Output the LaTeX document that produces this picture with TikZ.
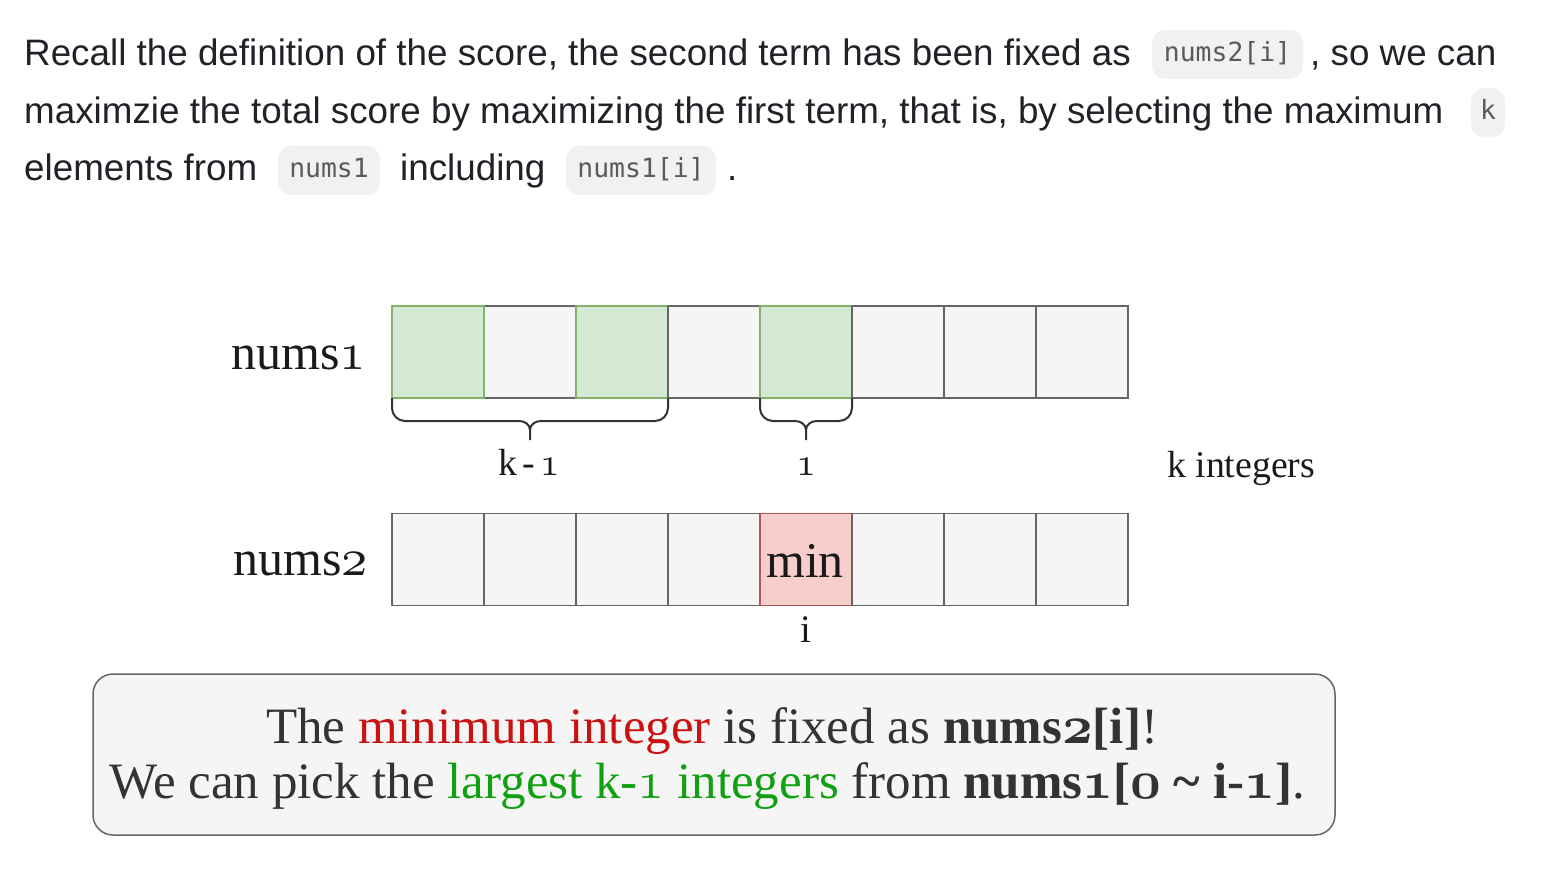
\documentclass[tikz,border=0pt]{standalone}
\usepackage{fontspec}
\newfontfamily\sansf{Liberation Sans}
\newfontfamily\monof{DejaVu Sans Mono}
\newfontfamily\serf{Liberation Serif}
\DeclareFontFamily{OML}{myosf}{}
\DeclareFontShape{OML}{myosf}{m}{it}{<->s*[1.05]cmmi10}{}
\DeclareFontShape{OML}{myosf}{b}{it}{<->s*[1.05]cmmib10}{}
\newcommand\osf[1]{{\usefont{OML}{myosf}{m}{it}#1}}
\newcommand\osfb[1]{{\usefont{OML}{myosf}{b}{it}#1}}
\usetikzlibrary{calc}
\definecolor{txt}{HTML}{1F2328}
\definecolor{codebg}{HTML}{F0F1F3}
\definecolor{codetxt}{HTML}{5A5A5A}
\definecolor{cellfill}{HTML}{F5F5F5}
\definecolor{celldraw}{HTML}{666666}
\definecolor{gfill}{HTML}{D5E8D4}
\definecolor{gdraw}{HTML}{82B366}
\definecolor{rfill}{HTML}{F8CECC}
\definecolor{rdraw}{HTML}{B85450}
\definecolor{lab}{HTML}{1A1A1A}
\definecolor{note}{HTML}{333333}
\definecolor{redt}{HTML}{CC1111}
\definecolor{greent}{HTML}{11A011}
\tikzset{
  prose/.style={anchor=base west, inner sep=0pt, text=txt, font=\sansf\fontsize{36.8}{44}\selectfont},
  codebox/.style={fill=codebg, rounded corners=13pt, inner sep=0pt, minimum height=49pt,
     text=codetxt, font=\monof\fontsize{26.4}{30}\selectfont, text height=19.8pt, text depth=5.3pt},
  cell/.style={draw=celldraw, fill=cellfill, line width=1.5pt, minimum size=92pt, inner sep=0pt},
  gcell/.style={cell, draw=gdraw, fill=gfill},
  rcell/.style={cell, draw=rdraw, fill=rfill},
  rowlab/.style={anchor=base east, inner sep=0pt, text=lab, font=\serf\fontsize{50}{54}\selectfont},
  small/.style={anchor=base, inner sep=0pt, text=lab, font=\serf\fontsize{37.8}{40}\selectfont},
  bracestyle/.style={draw=note, line width=2pt},
  notebox/.style={draw=celldraw, fill=cellfill, line width=1.5pt, rounded corners=20pt, inner sep=0pt},
  noteline/.style={anchor=base, inner sep=0pt, text=note, font=\serf\fontsize{51}{55}\selectfont},
}
\newcommand\drawbrace[3]{% left right centre (x)
  \draw[bracestyle] (#1,398) -- (#1,408) to[out=-90,in=180] (#1+13,421) -- (#3-11,421)
     to[out=0,in=90] (#3,430) -- (#3,440);
  \draw[bracestyle] (#2,398) -- (#2,408) to[out=-90,in=0] (#2-13,421) -- (#3+11,421)
     to[out=180,in=90] (#3,430);
}
\begin{document}
\begin{tikzpicture}[x=1pt,y=-1pt]
\useasboundingbox (0,0) rectangle (1558,878);
% prose
\node[prose] (t1) at (24,65) {Recall the definition of the score, the second term has been fixed as};
\node[codebox, minimum width=151pt] (c1) at (1227.5,54.5) {nums2[i]};
\node[prose] (t2) at (1310,65) {, so we can};
\node[prose] (t3) at (24,123) {maximzie the total score by maximizing the first term, that is, by selecting the maximum};
\node[codebox, minimum width=34pt] (c2) at (1488,112.5) {k};
\node[prose] (t4) at (24,180) {elements from};
\node[codebox, minimum width=102pt] (c3) at (329,170.5) {nums1};
\node[prose] (t5) at (400,180) {including};
\node[codebox, minimum width=150pt] (c4) at (641,170.5) {nums1[i]};
\node[prose] (t6) at (727,180) {.};
% nums1 row
\node[cell]  (a1) at (530,352) {};
\node[gcell] (a0) at (438,352) {};
\node[gcell] (a2) at (622,352) {};
\node[cell]  (a3) at (714,352) {};
\node[gcell] (a4) at (806,352) {};
\node[cell]  (a5) at (898,352) {};
\node[cell]  (a6) at (990,352) {};
\node[cell]  (a7) at (1082,352) {};
% nums2 row
\foreach \i in {0,1,2,3}{\node[cell] (b\i) at (438+92*\i,559.5) {};}
\node[rcell] (b4) at (806,559.5) {};
\foreach \i in {5,6,7}{\node[cell] (b\i) at (438+92*\i,559.5) {};}
\node[anchor=base, inner sep=0pt, text=lab, font=\serf\fontsize{50}{54}\selectfont] (mintxt) at (805,577) {min};
% labels
\node[rowlab] (n1) at (366,369) {nums\osf{1}};
\node[rowlab] (n2) at (368,575) {nums\osf{2}};
\drawbrace{392}{668}{530}
\drawbrace{760}{852}{806}
\node[small] (km1) at (529,475) {k\kern5pt-\kern5pt\osf{1}};
\node[small] (one) at (806,475) {\osf{1}};
\node[small, anchor=base west] (kint) at (1167,477) {k integers};
\node[small, font=\serf\fontsize{39}{40}\selectfont] (ilab) at (806,642) {i};
% note
\node[notebox, minimum width=1242pt, minimum height=161pt] (box) at (714,754.5) {};
\node[noteline] (l1) at (712,743) {The \textcolor{redt}{minimum integer} is fixed as \textbf{nums\osfb{2}[i]}!};
\node[noteline] (l2) at (707,798) {We can pick the \textcolor{greent}{largest k-\osf{1} integers} from \textbf{nums\osfb{1}[\osfb{0} \textasciitilde{} i-\osfb{1}]}.};
\end{tikzpicture}
\end{document}
